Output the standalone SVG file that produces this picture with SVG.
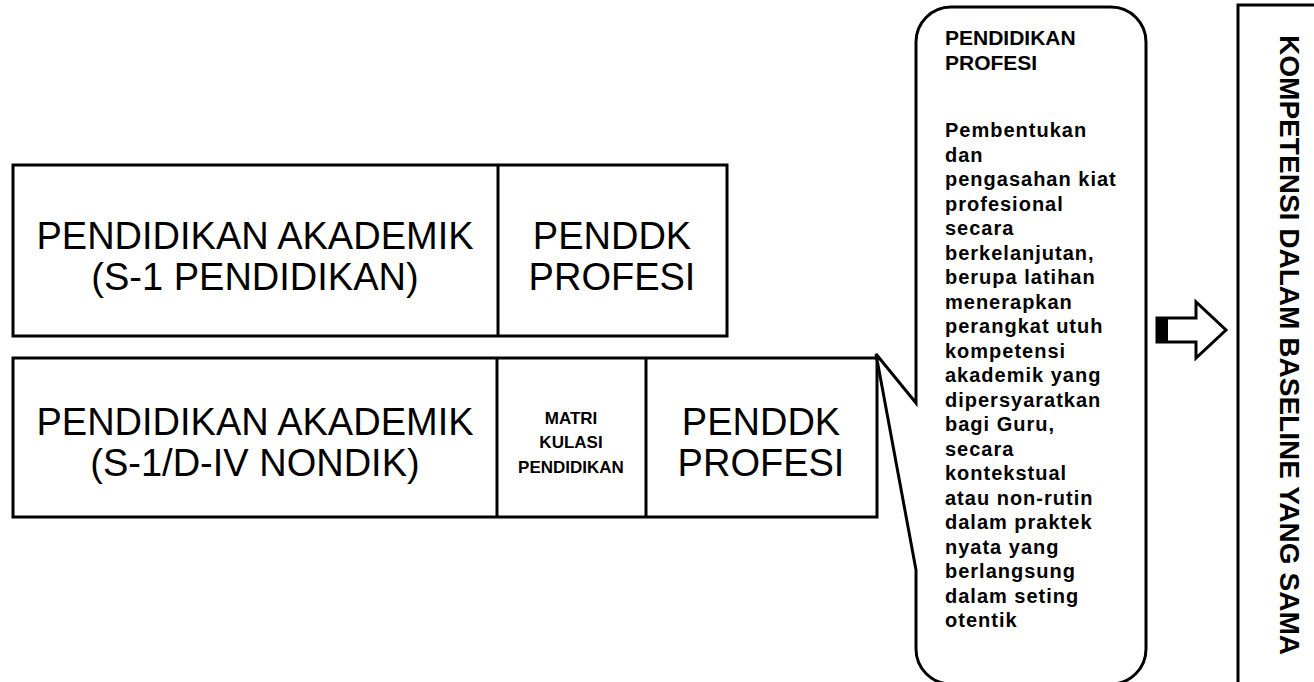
<svg xmlns="http://www.w3.org/2000/svg" width="1314" height="682" viewBox="0 0 1314 682">
<style>
.box{fill:#fff;stroke:#000;stroke-width:3}
.ln{stroke:#000;stroke-width:3;fill:none}
.big{font-family:"Liberation Sans",Arial,sans-serif;font-size:38px;fill:#000;text-anchor:middle}
.sm{font-family:"Liberation Sans",Arial,sans-serif;font-size:17px;font-weight:bold;fill:#000;text-anchor:middle}
.bt{font-family:"Liberation Sans",Arial,sans-serif;font-size:20px;font-weight:bold;fill:#000;letter-spacing:1px}
.bh{font-family:"Liberation Sans",Arial,sans-serif;font-size:21px;font-weight:bold;fill:#000}
.vt{font-family:"Liberation Sans",Arial,sans-serif;font-size:28px;font-weight:bold;fill:#000;text-anchor:middle}
</style>
<rect width="1314" height="682" fill="#fff"/>
<g id="row1">
<rect class="box" x="13" y="165" width="714" height="171"/>
<line class="ln" x1="498" y1="165" x2="498" y2="336"/>
<g id="akademik1">
<text class="big" x="255" y="249">PENDIDIKAN AKADEMIK</text>
<text class="big" x="255" y="290">(S-1 PENDIDIKAN)</text>
</g>
<g id="profesi1">
<text class="big" x="612" y="249">PENDDK</text>
<text class="big" x="612" y="290">PROFESI</text>
</g>
</g>
<g id="row2">
<rect class="box" x="13" y="358" width="864" height="159"/>
<line class="ln" x1="497" y1="358" x2="497" y2="517"/>
<line class="ln" x1="646" y1="358" x2="646" y2="517"/>
<g id="akademik2">
<text class="big" x="255" y="435">PENDIDIKAN AKADEMIK</text>
<text class="big" x="255" y="476">(S-1/D-IV NONDIK)</text>
</g>
<g id="matrikulasi">
<text class="sm" x="571" y="424">MATRI</text>
<text class="sm" x="571" y="448">KULASI</text>
<text class="sm" x="571" y="473">PENDIDIKAN</text>
</g>
<g id="profesi2">
<text class="big" x="761" y="435">PENDDK</text>
<text class="big" x="761" y="476">PROFESI</text>
</g>
</g>
<g id="callout">
<path class="box" d="M951 7H1111A35 35 0 0 1 1146 42V649A35 35 0 0 1 1111 684H951A35 35 0 0 1 916 649V570L876 354L916 403V42A35 35 0 0 1 951 7Z"/>
<text class="bh" x="945" y="45">PENDIDIKAN</text>
<text class="bh" x="945" y="70">PROFESI</text>
<text class="bt" x="945">
<tspan x="945" y="137">Pembentukan</tspan>
<tspan x="945" y="161.5">dan</tspan>
<tspan x="945" y="186">pengasahan kiat</tspan>
<tspan x="945" y="210.5">profesional</tspan>
<tspan x="945" y="235">secara</tspan>
<tspan x="945" y="259.5">berkelanjutan,</tspan>
<tspan x="945" y="284">berupa latihan</tspan>
<tspan x="945" y="308.5">menerapkan</tspan>
<tspan x="945" y="333">perangkat utuh</tspan>
<tspan x="945" y="357.5">kompetensi</tspan>
<tspan x="945" y="382">akademik yang</tspan>
<tspan x="945" y="406.5">dipersyaratkan</tspan>
<tspan x="945" y="431">bagi Guru,</tspan>
<tspan x="945" y="455.5">secara</tspan>
<tspan x="945" y="480">kontekstual</tspan>
<tspan x="945" y="504.5">atau non-rutin</tspan>
<tspan x="945" y="529">dalam praktek</tspan>
<tspan x="945" y="553.5">nyata yang</tspan>
<tspan x="945" y="578">berlangsung</tspan>
<tspan x="945" y="602.5">dalam seting</tspan>
<tspan x="945" y="627">otentik</tspan>
</text>
</g>
<g id="connectors">
<rect x="1157" y="318" width="11" height="24" fill="#000"/>
<path class="ln" d="M1157 318H1196V302L1226 330L1196 358V342H1157Z" stroke-width="2.5"/>
</g>
<g id="kompetensi">
<rect class="box" x="1238" y="5" width="100" height="700"/>
<text class="vt" transform="translate(1280,345) rotate(90)" textLength="620" lengthAdjust="spacingAndGlyphs">KOMPETENSI DALAM BASELINE YANG SAMA</text>
</g>
</svg>
